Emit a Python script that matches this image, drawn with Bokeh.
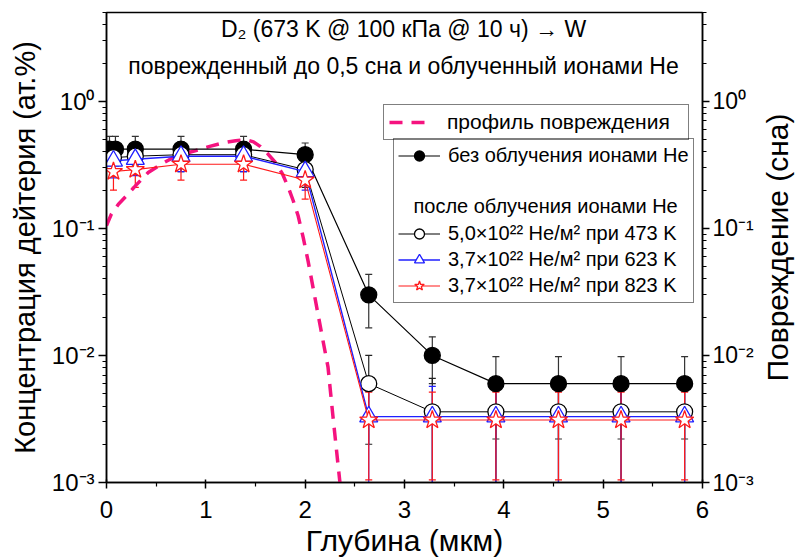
import math
from bokeh.plotting import figure
from bokeh.layouts import row
from bokeh.models import (Range1d, LogScale, LogAxis, FixedTicker, Whisker, TeeHead,
                          ColumnDataSource, Legend, LegendItem, Label)
from bokeh.embed import file_html
from bokeh.resources import INLINE
import numpy as np

# ---------------- data ----------------
X_TICKS = [0, 1, 2, 3, 4, 5, 6]
X_MINOR = [0.5, 1.5, 2.5, 3.5, 4.5, 5.5]
Y_TICKS = [1e-3, 1e-2, 1e-1, 1e0]
Y_TICK_LABELS = ["10⁻³", "10⁻²", "10⁻¹", "10⁰"]

# no He irradiation (filled black circles)
black_x = [0.03, 0.09, 0.29, 0.75, 1.38, 2.00, 2.64, 3.28, 3.92, 4.55, 5.18, 5.82]
black_y = [0.42, 0.42, 0.42, 0.42, 0.42, 0.38, 0.030, 0.010, 0.006, 0.006, 0.006, 0.006]
black_err = [0.11, 0.11, 0.11, 0.11, 0.11, 0.09, 0.0135, 0.004, 0.0038, 0.0038, 0.0038, 0.0038]

# common depths for He-irradiated samples
he_x = [0.07, 0.29, 0.75, 1.38, 2.00, 2.64, 3.28, 3.92, 4.55, 5.18, 5.82]
# 5.0e22 He/m2 at 473 K (open circles)
c473_y = [0.36, 0.37, 0.38, 0.38, 0.29, 0.006, 0.0036, 0.0036, 0.0036, 0.0036, 0.0036]
c473_err = [0.1, 0.1, 0.1, 0.1, 0.08, 0.004, 0.003, 0.003, 0.003, 0.003, 0.003]
# 3.7e22 He/m2 at 623 K (blue triangles)
t623_y = [0.34, 0.35, 0.37, 0.37, 0.28, 0.0033, 0.0033, 0.0033, 0.0033, 0.0033, 0.0033]
t623_err = [0.09, 0.09, 0.09, 0.09, 0.08, 0.0024, 0.0024, 0.0024, 0.0024, 0.0024, 0.0024]
# 3.7e22 He/m2 at 823 K (red stars)
s823_y = [0.28, 0.29, 0.32, 0.32, 0.24, 0.0031, 0.0031, 0.0031, 0.0031, 0.0031, 0.0031]
s823_err = [0.08, 0.08, 0.08, 0.08, 0.07, 0.00205, 0.00205, 0.00205, 0.00205, 0.00205, 0.00205]

# damage profile (dpa, right axis)
dmg_x = [0.00, 0.05, 0.12, 0.20, 0.30, 0.42, 0.55, 0.67, 0.80, 0.90, 1.03, 1.17, 1.30, 1.40,
         1.48, 1.55, 1.62, 1.70, 1.77, 1.83, 1.88, 1.93, 1.98, 2.03, 2.08, 2.13, 2.18, 2.23,
         2.28, 2.33, 2.35]
dmg_y = [0.105, 0.13, 0.155, 0.18, 0.22, 0.275, 0.32, 0.36, 0.39, 0.41, 0.44, 0.47, 0.49, 0.50,
         0.48, 0.44, 0.39, 0.33, 0.27, 0.21, 0.165, 0.125, 0.085, 0.055, 0.034, 0.021, 0.013,
         0.0081, 0.0033, 0.0014, 0.001]

TITLE1 = "D₂ (673 K @ 100 кПа @ 10 ч) → W"
TITLE2 = "поврежденный до 0,5 сна и облученный ионами He"
X_TITLE = "Глубина (мкм)"
Y_TITLE = "Концентрация дейтерия (ат.%)"
Y2_TITLE = "Повреждение (сна)"
LBL_DMG = "профиль повреждения"
LBL_BLACK = "без облучения ионами He"
LBL_HEADER = "после облучения ионами He"
LBL_473 = "5,0×10²² He/м² при 473 K"
LBL_623 = "3,7×10²² He/м² при 623 K"
LBL_823 = "3,7×10²² He/м² при 823 K"

FONT = "Liberation Sans"
PINK = "#f5137f"
BLUE = "#1f1fff"
RED = "#ff1a1a"

p = figure(width=757, height=559, x_range=Range1d(0, 6), y_range=Range1d(1e-3, 5),
           y_axis_type="log", output_backend="svg", toolbar_location=None,
           min_border_left=106, min_border_right=55, min_border_top=12, min_border_bottom=72)
p.xgrid.visible = False
p.ygrid.visible = False
p.outline_line_color = "black"
p.outline_line_width = 1.5
p.background_fill_color = "white"
p.border_fill_color = "white"

def style_axis(ax):
    ax.axis_line_width = 1.5
    ax.axis_line_color = "black"
    ax.major_tick_line_width = 1.5
    ax.minor_tick_line_width = 1.2
    ax.major_tick_line_color = "black"
    ax.minor_tick_line_color = "black"
    ax.major_label_text_font = FONT
    ax.major_label_text_font_size = "24px"
    ax.major_label_text_color = "black"
    ax.axis_label_text_font = FONT
    ax.axis_label_text_font_size = "30px"
    ax.axis_label_text_font_style = "normal"
    ax.axis_label_text_color = "black"

xa = p.xaxis[0]
style_axis(xa)
xa.ticker = FixedTicker(ticks=X_TICKS, minor_ticks=X_MINOR)
xa.major_tick_in = 3
xa.major_tick_out = 6
xa.minor_tick_in = 0
xa.minor_tick_out = 4
xa.major_label_standoff = 12
xa.axis_label = X_TITLE
xa.axis_label_standoff = 3

minor = []
for d in Y_TICKS:
    for k in range(2, 10):
        v = k * d
        if v <= 5.0001:
            minor.append(v)

ya = p.yaxis[0]
style_axis(ya)
ya.ticker = FixedTicker(ticks=Y_TICKS, minor_ticks=minor)
ya.major_label_overrides = {v: s for v, s in zip(Y_TICKS, Y_TICK_LABELS)}
ya.major_tick_in = 0
ya.major_tick_out = 8
ya.minor_tick_in = 0
ya.minor_tick_out = 4
ya.major_label_standoff = 4
ya.axis_label = Y_TITLE
ya.axis_label_text_font_size = "29px"
ya.axis_label_standoff = 8

p.extra_y_ranges = {"dmg": Range1d(1e-3, 5)}
p.extra_y_scales = {"dmg": LogScale()}
ra = LogAxis(y_range_name="dmg")
style_axis(ra)
ra.ticker = FixedTicker(ticks=Y_TICKS, minor_ticks=minor)
ra.major_label_overrides = {v: s for v, s in zip(Y_TICKS, Y_TICK_LABELS)}
ra.major_label_text_font_size = "23px"
ra.major_tick_in = 0
ra.major_tick_out = 7
ra.minor_tick_in = 0
ra.minor_tick_out = 4
ra.major_label_standoff = 3
p.add_layout(ra, "right")

# damage profile
r_dmg = p.line(dmg_x, dmg_y, y_range_name="dmg", line_color=PINK, line_width=3.5,
               line_dash="13 9")

def series(x, y, err, line_color, line_width, marker, size, fill, mline, err_color):
    lo = np.maximum(np.array(y) - np.array(err), 1e-5)
    hi = np.array(y) + np.array(err)
    src = ColumnDataSource(dict(x=x, y=y, lo=lo, hi=hi))
    w = Whisker(base="x", upper="hi", lower="lo", source=src, dimension="height",
                line_color=err_color, line_width=1.2,
                upper_head=TeeHead(size=7, line_color=err_color, line_width=1.2),
                lower_head=TeeHead(size=7, line_color=err_color, line_width=1.2))
    p.add_layout(w)
    rl = p.line("x", "y", source=src, line_color=line_color, line_width=line_width)
    rs = p.scatter("x", "y", source=src, marker=marker, size=size, fill_color=fill,
                   line_color=mline, line_width=1.3)
    return rl, rs

bl, bs = series(black_x, black_y, black_err, "black", 1.2, "circle", 16, "black", "black", "#333333")
cl, cs = series(he_x, c473_y, c473_err, "black", 1.0, "circle", 16, "white", "black", "#222222")
tl, ts = series(he_x, t623_y, t623_err, BLUE, 1.4, "triangle", 18, "white", BLUE, BLUE)
sl, ss = series(he_x, s823_y, s823_err, RED, 1.1, "star", 19, "white", RED, RED)

dummy = p.line([], [], line_alpha=0)

def style_legend(lg, size):
    lg.border_line_color = "black"
    lg.border_line_width = 1
    lg.background_fill_color = "white"
    lg.background_fill_alpha = 1
    lg.label_text_font = FONT
    lg.label_text_font_size = size
    lg.label_text_color = "black"
    lg.glyph_width = 42
    lg.glyph_height = 25
    lg.label_height = 25
    lg.spacing = 1
    lg.padding = 4
    lg.margin = 0
    lg.label_standoff = 8

leg1 = Legend(items=[LegendItem(label=LBL_DMG, renderers=[r_dmg])], location=(277, 342))
style_legend(leg1, "21px")
leg1.label_standoff = 16
leg1.padding = 5
leg1.glyph_height = 22
leg1.label_height = 22
leg1.label_width = 236
p.add_layout(leg1)

# header line of the second legend (drawn under the transparent legend box)
p.add_layout(Label(x=3.09, y=0.150, text=LBL_HEADER, text_font=FONT, text_font_size="20px",
                   text_baseline="middle", text_align="left", text_color="black"))

leg2 = Legend(items=[
    LegendItem(label=LBL_BLACK, renderers=[bl, bs]),
    LegendItem(label=" ", renderers=[dummy]),
    LegendItem(label=" ", renderers=[dummy]),
    LegendItem(label=LBL_473, renderers=[cl, cs]),
    LegendItem(label=LBL_623, renderers=[tl, ts]),
    LegendItem(label=LBL_823, renderers=[sl, ss]),
], location=(287, 179))
style_legend(leg2, "20px")
leg2.background_fill_alpha = 0
leg2.label_width = 240
p.add_layout(leg2)

p.add_layout(Label(x=2.99, y=3.70, text=TITLE1, text_font=FONT, text_font_size="23px",
                   text_baseline="middle", text_align="center", text_color="black"))
p.add_layout(Label(x=2.99, y=1.88, text=TITLE2, text_font=FONT, text_font_size="23px",
                   text_baseline="middle", text_align="center", text_color="black"))

# narrow companion figure that only carries the right-hand axis title,
# so that it reads bottom-to-top like the reference
p2 = figure(width=38, height=559, x_range=Range1d(0, 1), y_range=Range1d(0, 1),
            output_backend="svg", toolbar_location=None,
            min_border_left=0, min_border_right=0, min_border_top=12, min_border_bottom=72)
p2.outline_line_color = None
p2.grid.visible = False
p2.xaxis.visible = False
p2.background_fill_color = "white"
p2.border_fill_color = "white"
ya2 = p2.yaxis[0]
ya2.ticker = FixedTicker(ticks=[])
ya2.axis_line_color = None
ya2.major_tick_line_color = None
ya2.minor_tick_line_color = None
ya2.major_tick_out = 0
ya2.major_label_standoff = 0
ya2.axis_label = Y2_TITLE
ya2.axis_label_standoff = 0
ya2.axis_label_text_font = FONT
ya2.axis_label_text_font_size = "30px"
ya2.axis_label_text_font_style = "normal"
ya2.axis_label_text_color = "black"

layout = row(p, p2)
open("out.html", "w").write(file_html(layout, INLINE))
